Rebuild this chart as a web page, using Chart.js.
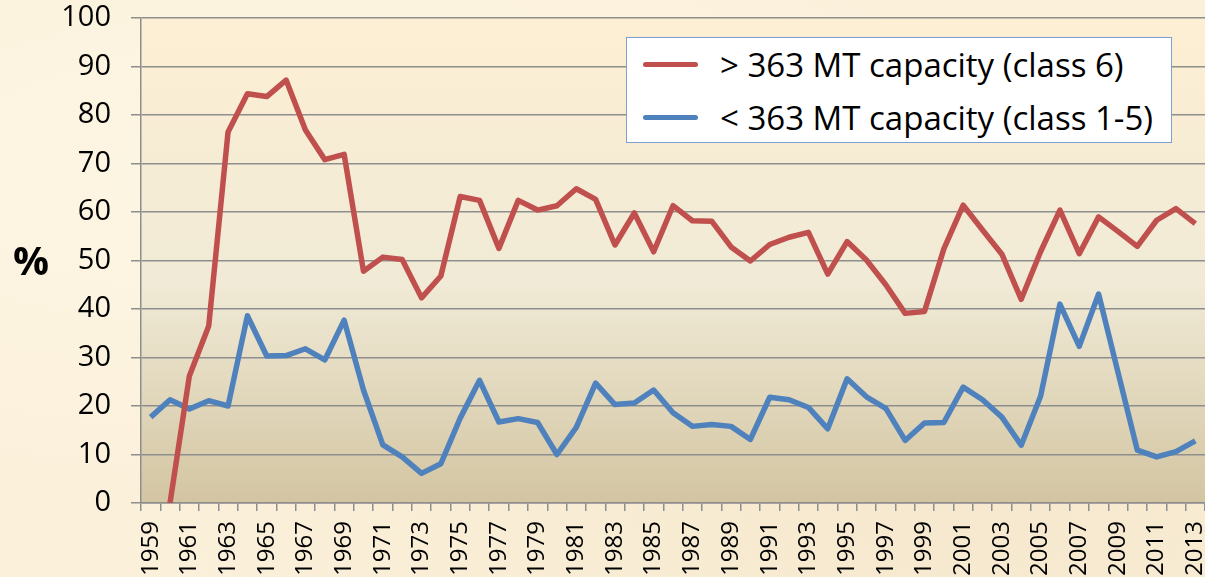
<!DOCTYPE html>
<html>
<head>
<meta charset="utf-8">
<script src="https://cdn.jsdelivr.net/npm/chart.js@4.4.0/dist/chart.umd.min.js"></script>
<style>
  html, body { margin: 0; padding: 0; }
  body {
    width: 1205px; height: 577px; overflow: hidden;
    background: #fbf0da;
    background-image: radial-gradient(ellipse at 20% 30%, rgba(255,250,235,0.6), rgba(255,250,235,0) 60%),
                      radial-gradient(ellipse at 80% 90%, rgba(240,225,195,0.5), rgba(240,225,195,0) 60%);
    font-family: "Open Sans", sans-serif;
  }
  #wrap { position: relative; width: 1205px; height: 577px; }
  #legend {
    position: absolute; left: 626px; top: 37px; width: 544px; height: 104px;
    background: #fff; border: 1.5px solid #7e9fcf;
  }
  .item { position: absolute; left: 0; height: 40px; display: flex; align-items: center; }
  .swatch { width: 55px; height: 5px; border-radius: 3px; margin-left: 16px; margin-right: 22px; }
  .text { font-size: 33px; color: #000; white-space: nowrap; }
</style>
</head>
<body>
<div id="wrap">
  <canvas id="chart" width="1205" height="577"></canvas>
  <div id="legend"></div>
</div>
<script>
// Share of fleet by capacity, per year
const years = ['1959','1960','1961','1962','1963','1964','1965','1966','1967','1968','1969',
  '1970','1971','1972','1973','1974','1975','1976','1977','1978','1979',
  '1980','1981','1982','1983','1984','1985','1986','1987','1988','1989',
  '1990','1991','1992','1993','1994','1995','1996','1997','1998','1999',
  '2000','2001','2002','2003','2004','2005','2006','2007','2008','2009',
  '2010','2011','2012','2013'];

const class6 = [null, 0, 26.2, 36.5, 76.5, 84.4, 83.8, 87.2, 76.9, 70.8, 71.9,
  47.8, 50.7, 50.2, 42.3, 46.8, 63.2, 62.4, 52.5, 62.4, 60.4,
  61.3, 64.8, 62.6, 53.2, 59.8, 51.8, 61.3, 58.2, 58.1, 52.8,
  49.9, 53.3, 54.8, 55.8, 47.2, 53.9, 50.1, 45.0, 39.1, 39.5,
  52.4, 61.4, 56.3, 51.3, 42.0, 51.8, 60.4, 51.4, 59.0, 56.0,
  52.9, 58.3, 60.7, 57.6];

const class1to5 = [17.7, 21.3, 19.4, 21.1, 20.0, 38.6, 30.3, 30.4, 31.8, 29.5, 37.7,
  23.3, 12.0, 9.5, 6.1, 8.1, 17.5, 25.3, 16.7, 17.4, 16.6,
  10.0, 15.6, 24.7, 20.3, 20.6, 23.3, 18.6, 15.8, 16.2, 15.8,
  13.1, 21.8, 21.3, 19.7, 15.3, 25.6, 21.9, 19.5, 12.9, 16.5,
  16.6, 23.9, 21.3, 17.7, 11.9, 22.0, 41.0, 32.3, 43.1, 27.0,
  10.9, 9.5, 10.6, 12.8];

const seriesLabels = ['> 363 MT capacity (class 6)', '< 363 MT capacity (class 1-5)'];
const seriesColors = ['#c0504d', '#4f81bd'];
const yTicks = [0, 10, 20, 30, 40, 50, 60, 70, 80, 90, 100];

const gridColor = '#8e8e8e';

// plot area background gradient + "%" label
const decor = {
  id: 'decor',
  beforeDraw(chart) {
    const { ctx, chartArea: a } = chart;
    const g = ctx.createLinearGradient(0, a.top, 0, a.bottom);
    g.addColorStop(0, '#fdefd3');
    g.addColorStop(0.55, '#f0ead6');
    g.addColorStop(1, '#d3c5a2');
    ctx.save();
    ctx.fillStyle = g;
    ctx.fillRect(a.left, a.top, a.right - a.left, a.bottom - a.top);
    ctx.restore();
  },
  afterDraw(chart) {
    const ctx = chart.ctx;
    ctx.save();
    ctx.font = 'bold 40px "Open Sans"';
    ctx.fillStyle = '#000';
    ctx.textAlign = 'center';
    ctx.textBaseline = 'middle';
    ctx.fillText('%', 31, 264);
    ctx.restore();
  }
};

const chart = new Chart(document.getElementById('chart'), {
  type: 'line',
  data: {
    labels: years,
    datasets: [
      { label: seriesLabels[0], data: class6, borderColor: seriesColors[0], borderWidth: 5.5,
        pointRadius: 0, tension: 0, borderJoinStyle: 'round' },
      { label: seriesLabels[1], data: class1to5, borderColor: seriesColors[1], borderWidth: 5.5,
        pointRadius: 0, tension: 0, borderJoinStyle: 'round' }
    ]
  },
  options: {
    responsive: false,
    animation: false,
    layout: { padding: { top: 18, right: 0, left: 0, bottom: 0 } },
    plugins: { legend: { display: false }, tooltip: { enabled: false } },
    scales: {
      x: {
        type: 'category',
        offset: true,
        grid: { offset: true, drawOnChartArea: false, color: gridColor, lineWidth: 1.5, tickLength: 8 },
        border: { color: gridColor, width: 1.5 },
        ticks: {
          autoSkip: false, maxRotation: 90, minRotation: 90, padding: 10,
          color: '#000', font: { family: 'Open Sans', size: 24 },
          callback: function(v, i) { return i % 2 === 0 ? years[i] : ''; }
        },
        afterFit: function(s) { s.height = 74; s.paddingLeft = 0; s.paddingRight = 0; }
      },
      y: {
        min: 0, max: 100,
        afterBuildTicks: function(s) { s.ticks = yTicks.map(v => ({ value: v })); },
        grid: { color: gridColor, lineWidth: 1.5, tickLength: 10 },
        border: { color: gridColor, width: 1.5 },
        ticks: { color: '#000', padding: 20, font: { family: 'Open Sans', size: 29 } },
        afterFit: function(s) { s.width = 141; s.paddingTop = 0; s.paddingBottom = 0; }
      }
    }
  },
  plugins: [decor]
});

// legend built from the series arrays
const legend = document.getElementById('legend');
seriesLabels.forEach((label, i) => {
  const item = document.createElement('div');
  item.className = 'item';
  item.style.top = (i === 0 ? 6 : 59) + 'px';
  item.innerHTML = `<span class="swatch" style="background:${seriesColors[i]}"></span><span class="text">${label}</span>`;
  legend.appendChild(item);
});
</script>
</body>
</html>
